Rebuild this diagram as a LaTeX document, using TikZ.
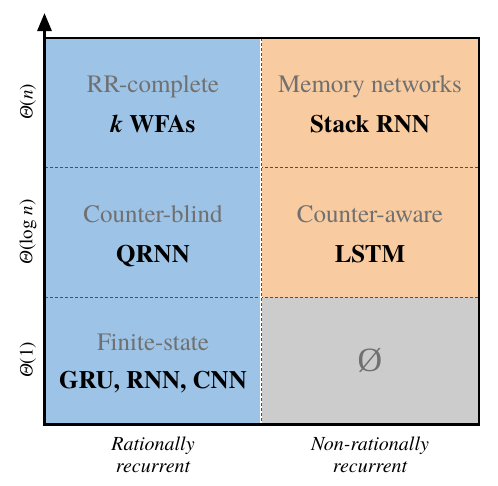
\documentclass[tikz,border=0pt]{standalone}
\usepackage{fontspec}
\setmainfont{texgyretermes}[Extension=.otf, UprightFont=*-regular, BoldFont=*-bold, ItalicFont=*-italic, BoldItalicFont=*-bolditalic]
\newfontfamily\lserif{Liberation Serif}
\usetikzlibrary{arrows.meta}
\definecolor{cblue}{HTML}{9DC3E6}
\definecolor{corange}{HTML}{F8CBA0}
\definecolor{cgray}{HTML}{CCCCCC}
\definecolor{tgray}{HTML}{707070}
\definecolor{dgray}{HTML}{505050}
\tikzset{
  cat/.style={text=tgray, font=\fontsize{25}{30}\selectfont, anchor=base, inner sep=0pt},
  model/.style={text=black, font=\fontsize{25}{30}\selectfont\bfseries, anchor=base, inner sep=0pt},
  axlab/.style={font=\fontsize{19}{22}\selectfont, rotate=90, inner sep=0pt},
  xlab/.style={font=\fontsize{20}{24}\selectfont\itshape, anchor=base, inner sep=0pt},
  divider/.style={dgray, line width=1pt, dash pattern=on 3pt off 2pt}
}
\begin{document}
\begin{tikzpicture}[x=1pt,y=-1pt]
\useasboundingbox (0,0) rectangle (498,485);
% cells
\fill[cblue] (45,38) rectangle (261,424);
\fill[corange] (261,38) rectangle (479,297);
\fill[cgray] (261,297) rectangle (479,424);
% dividers
\draw[divider] (45,167) -- (479,167);
\draw[divider] (45,297) -- (479,297);
\draw[white, line width=2pt] (261,38) -- (261,424);
\draw[divider] (261,38) -- (261,424);
% border
\draw[line width=2pt] (44.5,38) -- (479,38) -- (479,424);
\draw[line width=3pt] (44.5,424) -- (479.5,424);
\coordinate (o) at (44.5,425.5);
\coordinate (top) at (44.5,13);
\draw[line width=3pt, -{Triangle[length=18pt,width=14pt]}] (o) -- (top);
% texts
\node[cat] (c1) at (153,92) {RR-complete};
\node[model] (m1) at (153,132) {\textit{k} WFAs};
\node[cat] (c2) at (370,92) {Memory networks};
\node[model] (m2) at (370,132) {Stack RNN};
\node[cat] (c3) at (153,222) {Counter-blind};
\node[model] (m3) at (153,262) {QRNN};
\node[cat] (c4) at (370,222) {Counter-aware};
\node[model] (m4) at (370,262) {LSTM};
\node[cat] (c5) at (153,350) {Finite-state};
\node[model] (m5) at (153,388) {GRU, RNN, CNN};
\node[text=tgray, font=\fontsize{34}{40}\selectfont, inner sep=0pt] (empty) at (370,360) {\lserif Ø};
% axis labels
\node[axlab] (y1) at (28,102) {{\lserif\itshape Θ}(\textit{n})};
\node[axlab] (y2) at (28,232) {{\lserif\itshape Θ}(log \textit{n})};
\node[axlab] (y3) at (28,360) {{\lserif\itshape Θ}(1)};
\node[xlab] (x1a) at (153,450) {Rationally};
\node[xlab] (x1b) at (153,472) {recurrent};
\node[xlab] (x2a) at (370,450) {Non-rationally};
\node[xlab] (x2b) at (370,472) {recurrent};
\end{tikzpicture}
\end{document}
